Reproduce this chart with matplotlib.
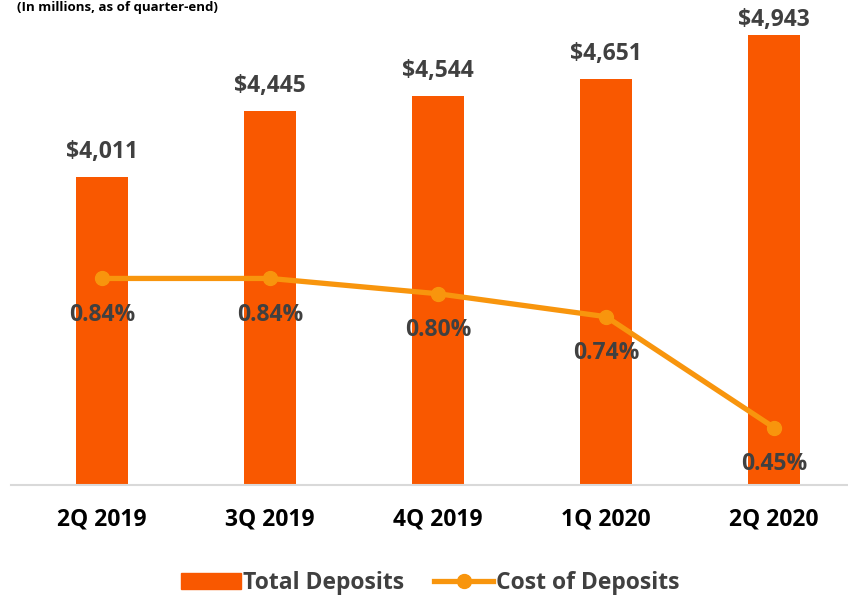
import matplotlib
matplotlib.use("Agg")
import matplotlib.pyplot as plt
from matplotlib.lines import Line2D
from matplotlib.patches import Patch

quarters = ["2Q 2019", "3Q 2019", "4Q 2019", "1Q 2020", "2Q 2020"]
deposits = [4011, 4445, 4544, 4651, 4943]
cost = [0.84, 0.84, 0.80, 0.74, 0.45]

bar_color = "#F95800"
line_color = "#F8950D"
text_color = "#404040"

plt.rcParams["font.family"] = ["Open Sans", "DejaVu Sans"]
plt.rcParams["font.weight"] = "bold"

fig = plt.figure(figsize=(8.48, 5.97), dpi=100)
W, H = 848, 597
ax = fig.add_axes([11 / W, 1 - 485 / H, 837 / W, 459 / H])

x = list(range(len(quarters)))
ax.bar(x, deposits, width=0.31, color=bar_color, zorder=2)
ax.set_xlim(-0.542, 4.44)
ax.set_ylim(2000, 5000)
# labels above bars, the top one is pushed down like in the original slide
for xi, v in zip(x, deposits):
    ax.text(xi, min(v + 165, 5040), "${:,}".format(v), ha="center", va="center",
            fontsize=16.5, fontweight="bold", color=text_color, clip_on=False)

ax.set_xticks(x)
ax.set_xticklabels(quarters, fontsize=16.5, fontweight="bold", color="black")
ax.tick_params(axis="x", length=0, pad=16)
ax.set_yticks([])
for s in ["top", "left", "right"]:
    ax.spines[s].set_visible(False)
ax.spines["bottom"].set_color("#D9D9D9")
ax.spines["bottom"].set_linewidth(1.5)

ax2 = ax.twinx()
ax2.plot(x, cost, color=line_color, lw=3.8, marker="o", ms=10, zorder=3)
ax2.set_ylim(0.30, 1.50)
ax2.set_yticks([])
for s in ax2.spines.values():
    s.set_visible(False)
for xi, c in zip(x, cost):
    ax2.annotate("{:.2f}%".format(c), (xi, c), xytext=(0, -26), textcoords="offset points",
                 ha="center", va="center", fontsize=16.5, fontweight="bold", color=text_color)

fig.text(17 / W, 0.999, "(In millions, as of quarter-end)", fontsize=9.5, fontweight="bold",
         color="black", ha="left", va="top")

handles = [Patch(color=bar_color),
           Line2D([0], [0], color=line_color, lw=3.8, marker="o", ms=10)]
leg = fig.legend(handles, ["Total Deposits", "Cost of Deposits"], loc="center",
                 bbox_to_anchor=(430 / W, 1 - 583 / H), ncol=2, frameon=False,
                 fontsize=16.5, handlelength=2.6, handletextpad=0.1, columnspacing=1.3)
for t in leg.get_texts():
    t.set_color(text_color)

fig.savefig("out.png", dpi=100)
